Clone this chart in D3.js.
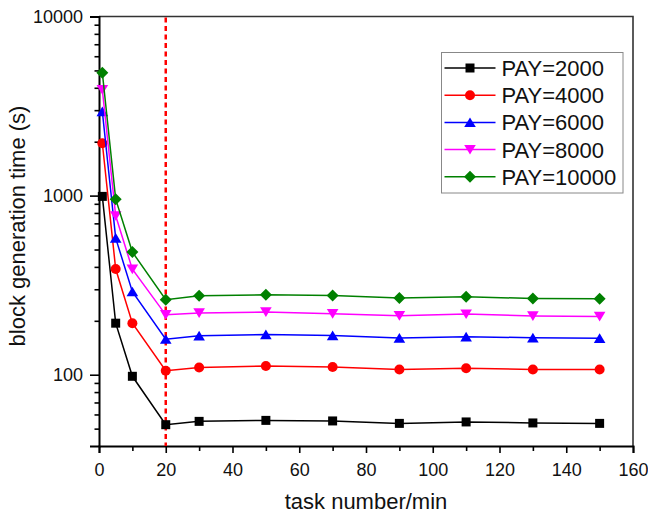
<!DOCTYPE html>
<html>
<head>
<meta charset="utf-8">
<script src="https://cdn.jsdelivr.net/npm/d3@7"></script>
<style>
  body { margin: 0; background: #fff; }
  svg { display: block; font-family: "Liberation Sans", Arial, sans-serif; }
  .axis path, .axis line { stroke: #000; }
</style>
</head>
<body>
<svg id="chart" width="648" height="515"></svg>
<script>
// x values (task number/min)
var taskNumbers = [1, 5, 10, 20, 30, 50, 70, 90, 110, 130, 150];

// block generation time (s) per PAY series
var pay2000  = [990, 194, 98, 52.6, 54.9, 55.6, 55.2, 53.5, 54.5, 53.8, 53.5];
var pay4000  = [1960, 389, 194, 105.3, 109.8, 111.8, 110.4, 107, 108.7, 107, 107];
var pay6000  = [2950, 579, 291, 158, 165, 167.8, 165.5, 160.3, 162.8, 161, 159.9];
var pay8000  = [3900, 771, 388, 216, 221, 223.8, 218.9, 213.3, 218, 213, 211.4];
var pay10000 = [4850, 955, 484, 262, 276, 279.4, 277, 268, 272.4, 266.5, 265.5];

var seriesNames = ["PAY=2000", "PAY=4000", "PAY=6000", "PAY=8000", "PAY=10000"];
var seriesValues = [pay2000, pay4000, pay6000, pay8000, pay10000];
var seriesColors = ["#000000", "#ff0000", "#0000ff", "#ff00ff", "#008000"];
var seriesShapes = ["square", "circle", "triangleUp", "triangleDown", "diamond"];

var xMajorTicks = [0, 20, 40, 60, 80, 100, 120, 140, 160];
var xMinorTicks = [10, 30, 50, 70, 90, 110, 130, 150];
var yMajorTicks = [100, 1000, 10000];
var yMinorTicks = [50, 60, 70, 80, 90, 200, 300, 400, 500, 600, 700, 800, 900,
                   2000, 3000, 4000, 5000, 6000, 7000, 8000, 9000];

var cutoffTask = 20; // red dashed reference line

// plot area
var plotLeft = 99, plotRight = 633, plotTop = 16.5, plotBottom = 446;

var svg = d3.select("#chart");

var x = d3.scaleLinear().domain([0, 160]).range([plotLeft, plotRight]);
var y = d3.scaleLog().domain([40, 10000]).range([plotBottom, plotTop]);

// frame top + right
svg.append("path")
    .attr("d", "M" + plotLeft + "," + plotTop + "H" + plotRight + "V" + plotBottom)
    .attr("fill", "none")
    .attr("stroke", "#333")
    .attr("stroke-width", 1.6);

// x axis
svg.append("g")
    .attr("class", "axis")
    .attr("transform", "translate(0," + plotBottom + ")")
    .call(d3.axisBottom(x).tickValues(xMajorTicks).tickSize(7).tickPadding(10).tickFormat(d3.format("d")));
svg.append("g")
    .attr("class", "axis")
    .attr("transform", "translate(0," + plotBottom + ")")
    .call(d3.axisBottom(x).tickValues(xMinorTicks).tickSize(5).tickFormat(""))
    .select(".domain").remove();

// y axis
svg.append("g")
    .attr("class", "axis")
    .attr("transform", "translate(" + plotLeft + ",0)")
    .call(d3.axisLeft(y).tickValues(yMajorTicks).tickSize(9).tickPadding(7).tickFormat(d3.format("d")));
svg.append("g")
    .attr("class", "axis")
    .attr("transform", "translate(" + plotLeft + ",0)")
    .call(d3.axisLeft(y).tickValues(yMinorTicks).tickSize(4.5).tickFormat(""))
    .select(".domain").remove();

svg.selectAll(".axis").attr("font-size", 18).attr("font-family", "'Liberation Sans', Arial, sans-serif");
svg.selectAll(".axis .domain").attr("stroke-width", 2);
svg.selectAll(".axis .tick line").attr("stroke-width", 1.6);
svg.selectAll(".axis text").attr("fill", "#111");

// axis titles
svg.append("text")
    .attr("x", (plotLeft + plotRight) / 2)
    .attr("y", 509)
    .attr("text-anchor", "middle")
    .attr("font-size", 22)
    .attr("fill", "#111")
    .text("task number/min");

svg.append("text")
    .attr("transform", "translate(25,226) rotate(-90)")
    .attr("text-anchor", "middle")
    .attr("font-size", 22)
    .attr("fill", "#111")
    .text("block generation time (s)");

// red dashed line
svg.append("line")
    .attr("x1", x(cutoffTask)).attr("x2", x(cutoffTask))
    .attr("y1", plotTop + 1).attr("y2", plotBottom)
    .attr("stroke", "#ff0000")
    .attr("stroke-width", 2.5)
    .attr("stroke-dasharray", "5,3.5");

// marker shapes
function markerPath(shape) {
    if (shape === "square") return "M-4.5,-4.5H4.5V4.5H-4.5Z";
    if (shape === "circle") return "M5,0A5,5 0 1,1 -5,0A5,5 0 1,1 5,0Z";
    if (shape === "triangleUp") return "M0,-5L5.8,4.7H-5.8Z";
    if (shape === "triangleDown") return "M0,5L5.8,-4.7H-5.8Z";
    if (shape === "diamond") return "M0,-6L6,0L0,6L-6,0Z";
}

var line = d3.line()
    .x(function (d) { return x(d[0]); })
    .y(function (d) { return y(d[1]); });

seriesValues.forEach(function (vals, i) {
    var pts = taskNumbers.map(function (t, j) { return [t, vals[j]]; });
    var g = svg.append("g");
    g.append("path")
        .datum(pts)
        .attr("d", line)
        .attr("fill", "none")
        .attr("stroke", seriesColors[i])
        .attr("stroke-width", 1.5);
    g.selectAll(".mk")
        .data(pts)
        .enter().append("path")
        .attr("class", "mk")
        .attr("transform", function (d) { return "translate(" + x(d[0]) + "," + y(d[1]) + ")"; })
        .attr("d", markerPath(seriesShapes[i]))
        .attr("fill", seriesColors[i]);
});

// legend
var legend = svg.append("g").attr("transform", "translate(441.5,52.5)");
legend.append("rect")
    .attr("width", 181.5)
    .attr("height", 140.5)
    .attr("fill", "#fff")
    .attr("stroke", "#888")
    .attr("stroke-width", 1);

var items = legend.selectAll(".item")
    .data(seriesNames)
    .enter().append("g")
    .attr("transform", function (d, i) { return "translate(0," + (15.5 + i * 27.2) + ")"; });

items.append("line")
    .attr("x1", 3).attr("x2", 54)
    .attr("stroke", function (d, i) { return seriesColors[i]; })
    .attr("stroke-width", 1.5);
items.append("path")
    .attr("transform", "translate(28.5,0)")
    .attr("d", function (d, i) { return markerPath(seriesShapes[i]); })
    .attr("fill", function (d, i) { return seriesColors[i]; });
items.append("text")
    .attr("x", 60)
    .attr("dy", "0.36em")
    .attr("font-size", 22)
    .attr("fill", "#111")
    .text(function (d) { return d; });
</script>
</body>
</html>
